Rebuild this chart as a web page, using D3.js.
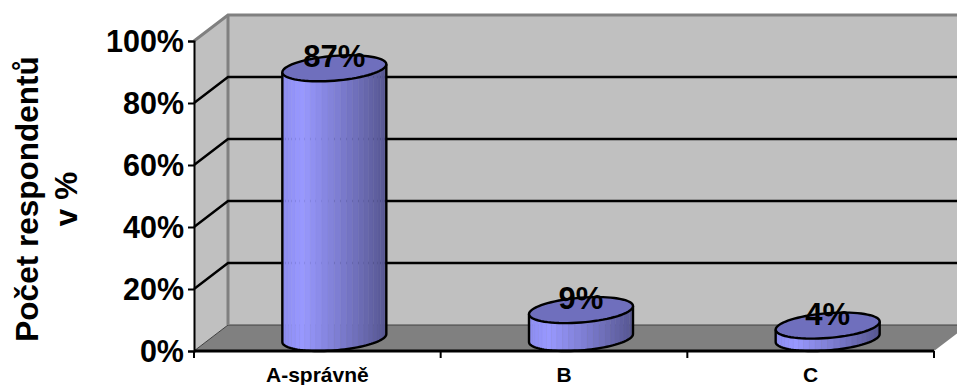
<!DOCTYPE html>
<html>
<head>
<meta charset="utf-8">
<script src="https://cdn.jsdelivr.net/npm/d3@7/dist/d3.min.js"></script>
<style>
html,body{margin:0;padding:0;background:#fff;overflow:hidden}
svg{display:block}
text{font-family:"Liberation Sans",Arial,sans-serif;font-weight:bold;fill:#000}
</style>
</head>
<body>
<svg id="chart" width="957" height="385"></svg>
<script>
const categories = ["A-správně", "B", "C"];
const shares = [87, 9, 4];
const axisTicks = [0, 20, 40, 60, 80, 100];
const axisTitleLines = ["Počet respondentů", "v %"];

const chartWidth = 957, chartHeight = 385;
const svg = d3.select("#chart").attr("viewBox", [0, 0, chartWidth, chartHeight]);

// Oblique projection: the back wall sits up and to the right of the front plane.
const depth = { x: 34, y: -26 };
const plotLeft = 194, plotRight = 934, plotBottom = 351, plotTop = 41;

const x = d3.scaleBand().domain(categories).range([plotLeft, plotRight]);
const y = d3.scaleLinear().domain([0, 100]).range([plotBottom, plotTop]);

const polygon = pts => "M" + pts.map(p => p.join(",")).join("L") + "Z";

// Back wall, side wall and floor
const wall = svg.append("g");
wall.append("path")
  .attr("d", polygon([[plotLeft + depth.x, y(100) + depth.y], [plotRight + depth.x, y(100) + depth.y],
                      [plotRight + depth.x, y(0) + depth.y], [plotLeft + depth.x, y(0) + depth.y]]))
  .attr("fill", "#c0c0c0");
wall.append("path")
  .attr("d", polygon([[plotLeft, y(100)], [plotLeft + depth.x, y(100) + depth.y],
                      [plotLeft + depth.x, y(0) + depth.y], [plotLeft, y(0)]]))
  .attr("fill", "#c0c0c0");
wall.append("path")
  .attr("d", polygon([[plotLeft, y(0)], [plotRight, y(0)], [plotRight + depth.x, y(0) + depth.y], [plotLeft + depth.x, y(0) + depth.y]]))
  .attr("fill", "#808080");
wall.append("path")
  .attr("d", `M${plotLeft},${y(0)}L${plotLeft + depth.x},${y(0) + depth.y}L${plotRight + depth.x},${y(0) + depth.y}`)
  .attr("fill", "none").attr("stroke", "#404040").attr("stroke-width", 1);
wall.append("path")
  .attr("d", `M${plotLeft},${y(100)}L${plotLeft + depth.x},${y(100) + depth.y}L${plotRight + depth.x},${y(100) + depth.y}`)
  .attr("fill", "none").attr("stroke", "#808080").attr("stroke-width", 3);
wall.append("path")
  .attr("d", `M${plotLeft + depth.x},${y(100) + depth.y}V${y(0) + depth.y}`)
  .attr("fill", "none").attr("stroke", "#808080").attr("stroke-width", 3);

// Gridlines run along the side wall and across the back wall
svg.append("g").selectAll("path")
  .data(axisTicks.filter(t => t > 0 && t < 100))
  .join("path")
  .attr("d", t => `M${plotLeft},${y(t)}L${plotLeft + depth.x},${y(t) + depth.y}L${plotRight + depth.x},${y(t) + depth.y}`)
  .attr("fill", "none").attr("stroke", "#000").attr("stroke-width", 2.4);

// Cylinders stand midway between the front plane and the back wall
const radiusX = 52, radiusY = 12.4, skew = 4;
const midX = d => x(d) + x.bandwidth() / 2 + depth.x / 2;
const baseY = y(0) + depth.y / 2;
const valueOf = d => shares[categories.indexOf(d)];
const capY = d => y(valueOf(d)) + depth.y / 2;

// Point on the sheared ellipse that forms a cylinder's cap
const rim = (cx, cy, t) => [cx + radiusX * Math.cos(t),
                            cy + radiusY * Math.sin(t) - skew * Math.cos(t)];
const line = d3.line();
const angles = (a, b, n = 48) => d3.range(n + 1).map(i => a + (b - a) * i / n);

const shade = d3.scaleLinear()
  .domain([0, 0.16, 0.55, 1])
  .range(["#8c8cf0", "#9999ff", "#7a7acc", "#55558f"]);
const stripes = 26;

const bars = svg.append("g").selectAll("g").data(categories).join("g");

bars.each(function (d) {
  const g = d3.select(this);
  const cx = midX(d), yb = baseY, yt = capY(d);
  // The wall is shaded in narrow vertical strips
  d3.range(stripes).forEach(i => {
    const a0 = Math.PI - Math.PI * i / stripes;
    const a1 = Math.PI - Math.PI * (i + 1) / stripes;
    const bot = angles(a0, a1, 4).map(t => rim(cx, yb, t));
    const upp = angles(a1, a0, 4).map(t => rim(cx, yt, t));
    const u = (bot[0][0] - (cx - radiusX)) / (2 * radiusX);
    g.append("path")
      .attr("d", line(bot.concat(upp)) + "Z")
      .attr("fill", shade(u))
      .attr("stroke", shade(u)).attr("stroke-width", 0.4);
  });
  // Silhouette of the wall
  const outline = [rim(cx, yt, Math.PI)]
    .concat(angles(Math.PI, 0).map(t => rim(cx, yb, t)))
    .concat([rim(cx, yt, 0)]);
  g.append("path").attr("d", line(outline))
    .attr("fill", "none").attr("stroke", "#000").attr("stroke-width", 2.4);
  // Top cap
  g.append("path")
    .attr("d", line(angles(0, 2 * Math.PI, 72).map(t => rim(cx, yt, t))) + "Z")
    .attr("fill", "#6f6fbd").attr("stroke", "#000").attr("stroke-width", 2.4);
});

// Value labels
svg.append("g").selectAll("text").data(categories).join("text")
  .attr("x", midX)
  .attr("y", d => capY(d) - 1)
  .attr("text-anchor", "middle")
  .attr("font-size", 31)
  .text(d => valueOf(d) + "%");

// Value axis on the front plane
const yAxis = svg.append("g")
  .attr("transform", `translate(${plotLeft},0)`)
  .call(d3.axisLeft(y).tickValues(axisTicks).tickFormat(t => t + "%").tickSize(6).tickPadding(4));
yAxis.selectAll("path.domain").attr("stroke", "#000").attr("stroke-width", 2);
yAxis.selectAll("line").attr("stroke", "#000").attr("stroke-width", 2);
yAxis.selectAll("text").attr("font-size", 30.5).attr("dy", "0.36em")
  .style("font-family", '"Liberation Sans",Arial,sans-serif');

// Category axis: ticks fall on band boundaries, labels at band centres
const xAxis = svg.append("g").attr("transform", `translate(0,${plotBottom})`);
xAxis.append("line").attr("x1", plotLeft).attr("x2", plotRight)
  .attr("stroke", "#000").attr("stroke-width", 3);
xAxis.selectAll("line.boundary")
  .data(categories.map(c => x(c)).concat(plotRight))
  .join("line").attr("class", "boundary")
  .attr("x1", d => d).attr("x2", d => d).attr("y1", 0).attr("y2", 7)
  .attr("stroke", "#000").attr("stroke-width", 2);
xAxis.selectAll("text").data(categories).join("text")
  .attr("x", d => x(d) + x.bandwidth() / 2)
  .attr("y", 31)
  .attr("text-anchor", "middle")
  .attr("font-size", 21)
  .text(d => d);

// Two-line rotated axis title
const title = svg.append("text")
  .attr("transform", "translate(38,199) rotate(-90)")
  .attr("text-anchor", "middle")
  .attr("font-size", 31.5);
title.selectAll("tspan").data(axisTitleLines).join("tspan")
  .attr("x", 0)
  .attr("dy", (d, i) => i ? 39 : 0)
  .text(d => d);
</script>
</body>
</html>
